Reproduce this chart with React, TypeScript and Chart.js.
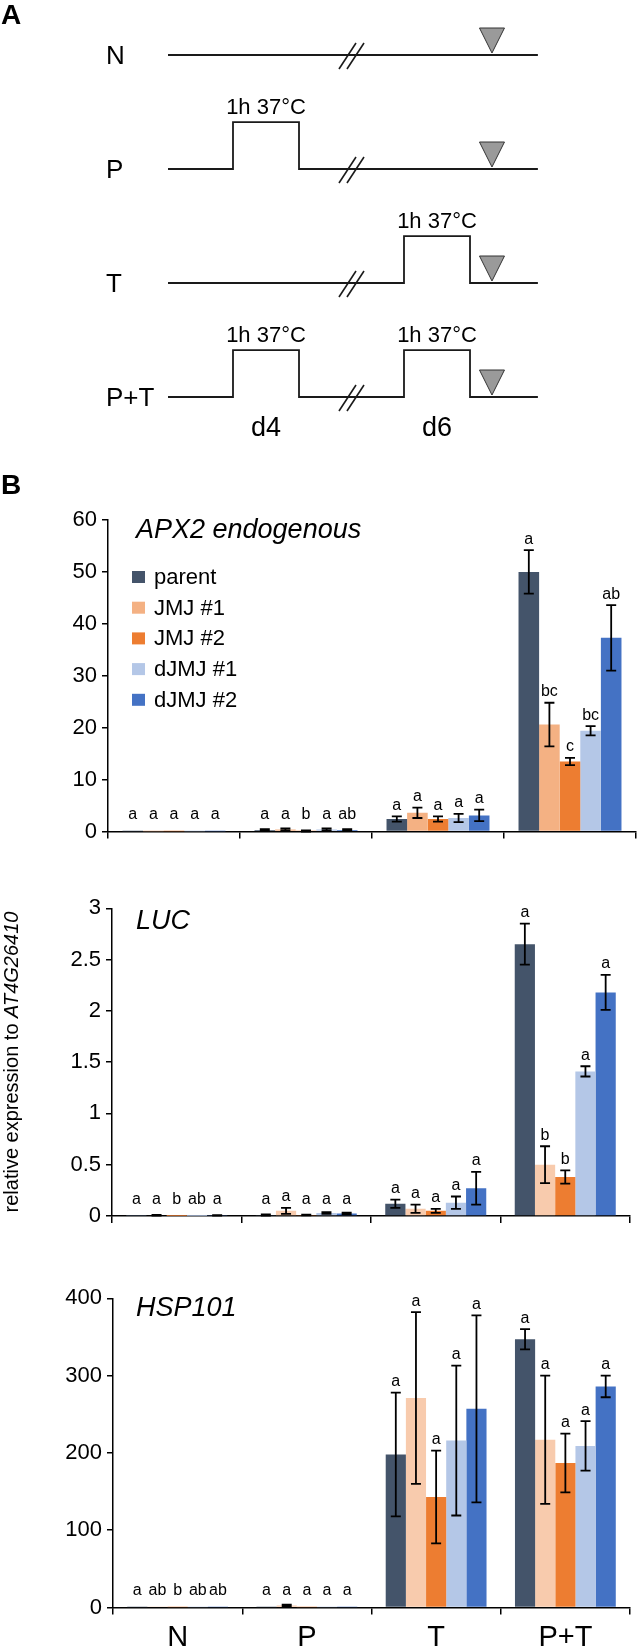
import React, { useEffect, useRef } from 'react';
import { Chart, registerables } from 'chart.js';

Chart.register(...registerables);

const PAGE_W = 638;
const FONT = '"Liberation Sans", Arial, Helvetica, sans-serif';

// ---------- Panel A: treatment schematic (units: days / treatment rows) ----------
const treatments = ['N', 'P', 'T', 'P+T'];
const heatOnD4 = [false, true, false, true];
const heatOnD6 = [false, false, true, true];
const heatDays = [4, 6];
const heatDayLabels = ['d4', 'd6'];
const heatLabel = '1h 37°C';
const timelineStartDay = 2.854;
const timelineEndDay = 7.18;
const breakDay = 5.0;
const sampleDay = 6.643;
const heatHalfWidthDays = 0.386;
const heatLevel = 0.412;

// ---------- Panel B: qRT-PCR data ----------
const categories = ['N', 'P', 'T', 'P+T'];
const lines = ['parent', 'JMJ #1', 'JMJ #2', 'dJMJ #1', 'dJMJ #2'];

// APX2 endogenous
const apx2Means = [
  [0.01, 0.3, 2.4, 50.0],
  [0.01, 0.4, 3.6, 20.6],
  [0.01, 0.1, 2.4, 13.5],
  [0.01, 0.4, 2.6, 19.4],
  [0.01, 0.3, 3.1, 37.3],
];
const apx2Errors = [
  [0, 0.15, 0.5, 4.2],
  [0, 0.2, 1.0, 4.2],
  [0, 0.1, 0.5, 0.7],
  [0, 0.2, 0.8, 0.9],
  [0, 0.15, 1.1, 6.3],
];
const apx2Letters = [
  ['a', 'a', 'a', 'a'],
  ['a', 'a', 'a', 'bc'],
  ['a', 'b', 'a', 'c'],
  ['a', 'a', 'a', 'bc'],
  ['a', 'ab', 'a', 'ab'],
];

// LUC
const lucMeans = [
  [0.002, 0.01, 0.12, 2.65],
  [0.008, 0.05, 0.07, 0.5],
  [0.001, 0.01, 0.05, 0.38],
  [0.001, 0.03, 0.13, 1.41],
  [0.006, 0.025, 0.27, 2.18],
];
const lucErrors = [
  [0, 0.005, 0.04, 0.2],
  [0.003, 0.03, 0.04, 0.18],
  [0, 0.004, 0.02, 0.065],
  [0, 0.008, 0.06, 0.05],
  [0.003, 0.008, 0.16, 0.17],
];
const lucLetters = [
  ['a', 'a', 'a', 'a'],
  ['a', 'a', 'a', 'b'],
  ['b', 'a', 'a', 'b'],
  ['ab', 'a', 'a', 'a'],
  ['a', 'a', 'a', 'a'],
];

// HSP101
const hspMeans = [
  [0.3, 0.4, 198, 347],
  [0.5, 2.5, 271, 217],
  [0.2, 0.3, 143, 187],
  [0.3, 0.3, 216, 209],
  [0.3, 0.3, 257, 286],
];
const hspErrors = [
  [0, 0, 80, 13],
  [0, 1.2, 111, 83],
  [0, 0, 60, 38],
  [0, 0, 97, 32],
  [0, 0, 121, 14],
];
const hspLetters = [
  ['a', 'a', 'a', 'a'],
  ['ab', 'a', 'a', 'a'],
  ['b', 'a', 'a', 'a'],
  ['ab', 'a', 'a', 'a'],
  ['ab', 'a', 'a', 'a'],
];

const colorsStrong = ['#44546A', '#F4B183', '#ED7D31', '#B4C7E7', '#4472C4'];
const colorsSoft = ['#44546A', '#F8CBAD', '#ED7D31', '#B4C7E7', '#4472C4'];

type BarCfg = {
  title: string;
  means: number[][];
  errors: number[][];
  letters: string[][];
  colors: string[];
  yMax: number;
  yStep: number;
  canvasTop: number;
  canvasHeight: number;
  area: { left: number; right: number; top: number; bottom: number };
  titleY: number;
  showXLabels: boolean;
  legend: boolean;
  yTitle: boolean;
};

const barConfigs: BarCfg[] = [
  {
    title: 'APX2 endogenous',
    means: apx2Means,
    errors: apx2Errors,
    letters: apx2Letters,
    colors: colorsStrong,
    yMax: 60,
    yStep: 10,
    canvasTop: 500,
    canvasHeight: 360,
    area: { left: 108, right: 636, top: 520, bottom: 831.5 },
    titleY: 530.7,
    showXLabels: false,
    legend: true,
    yTitle: false,
  },
  {
    title: 'LUC',
    means: lucMeans,
    errors: lucErrors,
    letters: lucLetters,
    colors: colorsSoft,
    yMax: 3,
    yStep: 0.5,
    canvasTop: 860,
    canvasHeight: 380,
    area: { left: 112, right: 630, top: 908.3, bottom: 1216 },
    titleY: 921.7,
    showXLabels: false,
    legend: false,
    yTitle: true,
  },
  {
    title: 'HSP101',
    means: hspMeans,
    errors: hspErrors,
    letters: hspLetters,
    colors: colorsSoft,
    yMax: 400,
    yStep: 100,
    canvasTop: 1240,
    canvasHeight: 410,
    area: { left: 113, right: 630, top: 1298.3, bottom: 1607.5 },
    titleY: 1308,
    showXLabels: true,
    legend: false,
    yTitle: false,
  },
];

function treatmentPath(row: number) {
  const pts: { x: number; y: number }[] = [{ x: timelineStartDay, y: row }];
  [heatOnD4[row], heatOnD6[row]].forEach((on, k) => {
    if (!on) return;
    const c = heatDays[k];
    pts.push(
      { x: c - heatHalfWidthDays, y: row },
      { x: c - heatHalfWidthDays, y: row - heatLevel },
      { x: c + heatHalfWidthDays, y: row - heatLevel },
      { x: c + heatHalfWidthDays, y: row }
    );
  });
  pts.push({ x: timelineEndDay, y: row });
  return pts;
}

function makeSchematic(canvas: HTMLCanvasElement) {
  const schematicPlugin = {
    id: 'schematicText',
    afterDraw(chart: any) {
      const { ctx } = chart;
      const xs = chart.scales.x;
      const ys = chart.scales.y;
      ctx.save();
      ctx.fillStyle = '#000';
      ctx.font = `bold 28px ${FONT}`;
      ctx.textAlign = 'left';
      ctx.textBaseline = 'middle';
      ctx.fillText('A', 1, 16);
      ctx.fillText('B', 1, 486);

      treatments.forEach((t, row) => {
        const yPx = ys.getPixelForValue(row);
        ctx.fillStyle = '#000';
        ctx.font = `26px ${FONT}`;
        ctx.textAlign = 'left';
        ctx.textBaseline = 'middle';
        ctx.fillText(t, 106, yPx + 2);

        [heatOnD4[row], heatOnD6[row]].forEach((on, k) => {
          if (!on) return;
          ctx.font = `22px ${FONT}`;
          ctx.textAlign = 'center';
          ctx.textBaseline = 'middle';
          ctx.fillText(heatLabel, xs.getPixelForValue(heatDays[k]), ys.getPixelForValue(row - heatLevel) - 14);
        });

        const bx = xs.getPixelForValue(breakDay);
        ctx.strokeStyle = '#1a1a1a';
        ctx.lineWidth = 1.6;
        [-4, 4].forEach((off) => {
          ctx.beginPath();
          ctx.moveTo(bx + off - 8.5, yPx + 14);
          ctx.lineTo(bx + off + 8.5, yPx - 12);
          ctx.stroke();
        });

        const sx = xs.getPixelForValue(sampleDay);
        ctx.beginPath();
        ctx.moveTo(sx - 12.5, yPx - 27);
        ctx.lineTo(sx + 12.5, yPx - 27);
        ctx.lineTo(sx, yPx - 2);
        ctx.closePath();
        ctx.fillStyle = '#9a9a9a';
        ctx.fill();
        ctx.strokeStyle = '#333';
        ctx.lineWidth = 1;
        ctx.stroke();
      });

      const lastRow = ys.getPixelForValue(treatments.length - 1);
      ctx.fillStyle = '#000';
      ctx.font = `27px ${FONT}`;
      ctx.textAlign = 'center';
      ctx.textBaseline = 'middle';
      heatDayLabels.forEach((d, k) => {
        ctx.fillText(d, xs.getPixelForValue(heatDays[k]), lastRow + 32);
      });
      ctx.restore();
    },
  };

  const pxPerDay = 85.5;
  const xMin = 4 - 266 / pxPerDay;
  const pxPerRow = 114;
  const yMin = -55 / pxPerRow;
  return new Chart(canvas, {
    type: 'scatter',
    data: {
      datasets: treatments.map((t, row) => ({
        label: t,
        data: treatmentPath(row),
        showLine: true,
        borderColor: '#1a1a1a',
        borderWidth: 1.8,
        pointRadius: 0,
        fill: false,
        tension: 0,
      })),
    },
    options: {
      responsive: false,
      animation: false,
      devicePixelRatio: 1,
      layout: { padding: 0 },
      plugins: { legend: { display: false }, tooltip: { enabled: false } },
      scales: {
        x: { type: 'linear', display: false, min: xMin, max: xMin + PAGE_W / pxPerDay },
        y: { type: 'linear', display: false, reverse: true, min: yMin, max: yMin + 500 / pxPerRow },
      },
    },
    plugins: [schematicPlugin],
  });
}

function makeBarChart(canvas: HTMLCanvasElement, cfg: BarCfg) {
  const { area, canvasTop, canvasHeight } = cfg;
  const annot = {
    id: 'annot',
    afterDatasetsDraw(chart: any) {
      const { ctx } = chart;
      const ys = chart.scales.y;
      const zeroPx = ys.getPixelForValue(0);
      ctx.save();
      cfg.means.forEach((series, i) => {
        const meta = chart.getDatasetMeta(i);
        series.forEach((v, j) => {
          const bar = meta.data[j];
          const x = bar.x;
          const e = cfg.errors[i][j];
          let topPx = ys.getPixelForValue(v);
          if (e > 0) {
            topPx = ys.getPixelForValue(v + e);
            const botPx = ys.getPixelForValue(Math.max(v - e, 0));
            ctx.strokeStyle = '#000';
            ctx.lineWidth = 1.8;
            ctx.beginPath();
            ctx.moveTo(x, topPx);
            ctx.lineTo(x, botPx);
            ctx.moveTo(x - 5, topPx);
            ctx.lineTo(x + 5, topPx);
            ctx.moveTo(x - 5, botPx);
            ctx.lineTo(x + 5, botPx);
            ctx.stroke();
          }
          const ly = Math.min(topPx - 11, zeroPx - 16.5);
          ctx.fillStyle = '#000';
          ctx.font = `16px ${FONT}`;
          ctx.textAlign = 'center';
          ctx.textBaseline = 'middle';
          ctx.fillText(cfg.letters[i][j], x, ly);
        });
      });
      ctx.restore();
    },
    afterDraw(chart: any) {
      const { ctx } = chart;
      ctx.save();
      ctx.fillStyle = '#000';
      ctx.font = `italic 27px ${FONT}`;
      ctx.textAlign = 'left';
      ctx.textBaseline = 'middle';
      ctx.fillText(cfg.title, 136, cfg.titleY - canvasTop);

      if (cfg.legend) {
        lines.forEach((name, i) => {
          const cy = 577 + i * 30.7 - canvasTop;
          ctx.fillStyle = cfg.colors[i];
          ctx.fillRect(132, cy - 6, 13, 12);
          ctx.fillStyle = '#000';
          ctx.font = `22px ${FONT}`;
          ctx.textBaseline = 'middle';
          ctx.fillText(name, 154, cy + 1);
        });
      }

      if (cfg.yTitle) {
        const a = 'relative expression to ';
        const b = 'AT4G26410';
        ctx.translate(12, 1062 - canvasTop);
        ctx.rotate(-Math.PI / 2);
        ctx.font = `20px ${FONT}`;
        const wa = ctx.measureText(a).width;
        ctx.font = `italic 20px ${FONT}`;
        const wb = ctx.measureText(b).width;
        const start = -(wa + wb) / 2;
        ctx.textBaseline = 'middle';
        ctx.textAlign = 'left';
        ctx.fillStyle = '#000';
        ctx.font = `20px ${FONT}`;
        ctx.fillText(a, start, 0);
        ctx.font = `italic 20px ${FONT}`;
        ctx.fillText(b, start + wa, 0);
      }
      ctx.restore();
    },
  };

  return new Chart(canvas, {
    type: 'bar',
    data: {
      labels: categories,
      datasets: lines.map((name, i) => ({
        label: name,
        data: cfg.means[i],
        backgroundColor: cfg.colors[i],
        borderWidth: 0,
        categoryPercentage: 0.78,
        barPercentage: 1,
      })),
    },
    options: {
      responsive: false,
      animation: false,
      devicePixelRatio: 1,
      layout: {
        padding: { left: 0, right: PAGE_W - area.right, top: area.top - canvasTop, bottom: 0 },
      },
      plugins: { legend: { display: false }, tooltip: { enabled: false } },
      scales: {
        x: {
          type: 'category',
          grid: {
            display: true,
            offset: true,
            drawOnChartArea: false,
            drawTicks: true,
            tickLength: 7,
            color: '#000',
            lineWidth: 1.5,
          },
          border: { display: true, color: '#000', width: 1.5 },
          ticks: {
            display: cfg.showXLabels,
            color: '#000',
            font: { family: FONT, size: 29 },
            padding: 6,
            maxRotation: 0,
            autoSkip: false,
          },
          afterFit: (s: any) => {
            s.height = canvasTop + canvasHeight - area.bottom;
          },
        },
        y: {
          type: 'linear',
          min: 0,
          max: cfg.yMax,
          ticks: {
            stepSize: cfg.yStep,
            color: '#000',
            font: { family: FONT, size: 22 },
            padding: 5,
            callback: (v: any) => String(Number(v)),
          },
          grid: {
            drawOnChartArea: false,
            drawTicks: true,
            tickLength: 6,
            color: '#000',
            lineWidth: 1.5,
          },
          border: { display: true, color: '#000', width: 1.5 },
          afterFit: (s: any) => {
            s.width = area.left;
          },
        },
      },
    },
    plugins: [annot],
  });
}

export default function App() {
  const schemRef = useRef<HTMLCanvasElement | null>(null);
  const barRef0 = useRef<HTMLCanvasElement | null>(null);
  const barRef1 = useRef<HTMLCanvasElement | null>(null);
  const barRef2 = useRef<HTMLCanvasElement | null>(null);
  const barRefs = [barRef0, barRef1, barRef2];

  useEffect(() => {
    document.body.style.margin = '0';
    const charts: Chart[] = [];
    if (schemRef.current) charts.push(makeSchematic(schemRef.current));
    barConfigs.forEach((cfg, i) => {
      const c = barRefs[i].current;
      if (c) charts.push(makeBarChart(c, cfg));
    });
    return () => charts.forEach((c) => c.destroy());
  }, []);

  return (
    <div style={{ position: 'relative', width: PAGE_W, height: 1650, overflow: 'hidden', background: '#fff' }}>
      <canvas
        ref={schemRef}
        width={PAGE_W}
        height={500}
        style={{ position: 'absolute', left: 0, top: 0, width: PAGE_W, height: 500 }}
      />
      {barConfigs.map((cfg, i) => (
        <canvas
          key={cfg.title}
          ref={barRefs[i]}
          width={PAGE_W}
          height={cfg.canvasHeight}
          style={{ position: 'absolute', left: 0, top: cfg.canvasTop, width: PAGE_W, height: cfg.canvasHeight }}
        />
      ))}
    </div>
  );
}
